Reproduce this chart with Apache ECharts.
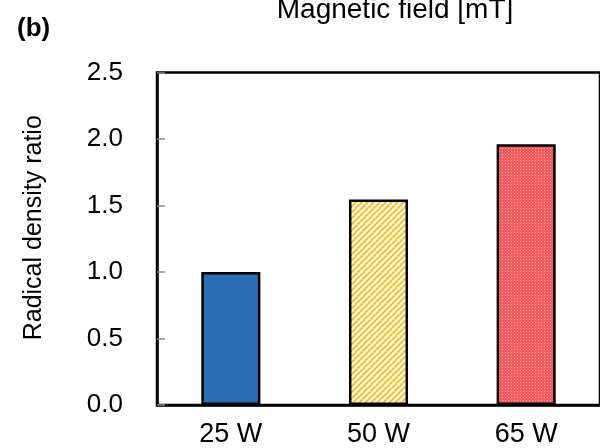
<!DOCTYPE html>
<html>
<head>
<meta charset="utf-8">
<script src="https://cdn.jsdelivr.net/npm/echarts@6/dist/echarts.min.js"></script>
<style>
  html, body { margin: 0; padding: 0; background: #fff; }
  #main { width: 600px; height: 448px; }
</style>
</head>
<body>
<div id="main"></div>
<script>
  // data
  const categories = ['25 W', '50 W', '65 W'];
  const ratioValues = [1.0, 1.545, 1.96];
  const yTicks = [0, 0.5, 1.0, 1.5, 2.0, 2.5];

  const font = '"Liberation Sans", Arial, sans-serif';

  // yellow diagonal stripes
  function stripePattern() {
    const c = document.createElement('canvas');
    c.width = 6; c.height = 6;
    const ctx = c.getContext('2d');
    ctx.fillStyle = '#ffffff';
    ctx.fillRect(0, 0, 6, 6);
    ctx.strokeStyle = '#ffbf1f';
    ctx.lineWidth = 2;
    ctx.beginPath();
    ctx.moveTo(-1, 7); ctx.lineTo(7, -1);
    ctx.moveTo(-4, 4); ctx.lineTo(4, -4);
    ctx.moveTo(2, 10); ctx.lineTo(10, 2);
    ctx.stroke();
    return c;
  }

  // red fine dots
  function dotPattern() {
    const c = document.createElement('canvas');
    c.width = 3; c.height = 3;
    const ctx = c.getContext('2d');
    ctx.fillStyle = '#f85b5e';
    ctx.fillRect(0, 0, 3, 3);
    ctx.fillStyle = '#ffaaaa';
    ctx.fillRect(1, 1, 1, 1);
    return c;
  }

  const fills = [
    '#2b70b5',
    { image: stripePattern(), repeat: 'repeat' },
    { image: dotPattern(), repeat: 'repeat' }
  ];

  const chart = echarts.init(document.getElementById('main'));

  const option = {
    animation: false,
    title: [
      {
        text: 'Magnetic field [mT]',
        left: 390, top: -9, textAlign: 'center',
        textStyle: { fontFamily: font, fontSize: 28, fontWeight: 'normal', color: '#000' }
      },
      {
        text: '(b)',
        left: 12, top: 11,
        textStyle: { fontFamily: font, fontSize: 26, fontWeight: 'bold', color: '#000' }
      }
    ],
    grid: {
      left: 157, right: -10, top: 72.5, bottom: 36.5,
      show: true, borderColor: '#000', borderWidth: 2.5, backgroundColor: 'transparent'
    },
    xAxis: {
      type: 'category',
      data: categories,
      axisLine: { lineStyle: { color: '#000', width: 2.5 } },
      axisTick: { show: false },
      axisLabel: { margin: 16, fontFamily: font, fontSize: 27, color: '#000' }
    },
    yAxis: {
      type: 'value',
      min: 0, max: 2.5, interval: 0.5,
      name: 'Radical density ratio',
      nameLocation: 'middle',
      nameGap: 110,
      nameTextStyle: { fontFamily: font, fontSize: 25, color: '#000', padding: [0, 0, 0, 22] },
      axisLine: { show: true, lineStyle: { color: '#000', width: 2.5 } },
      axisTick: { show: true, inside: true, length: 8, lineStyle: { color: '#888', width: 1.5 } },
      splitLine: { show: false },
      axisLabel: {
        margin: 34, fontFamily: font, fontSize: 26, color: '#000',
        formatter: v => yTicks.includes(v) ? v.toFixed(1) : ''
      }
    },
    series: [{
      type: 'bar',
      barWidth: '40%',
      data: ratioValues.map((v, i) => ({
        value: v,
        itemStyle: { color: fills[i], borderColor: '#000', borderWidth: 2.5 }
      }))
    }]
  };

  chart.setOption(option);
</script>
</body>
</html>
